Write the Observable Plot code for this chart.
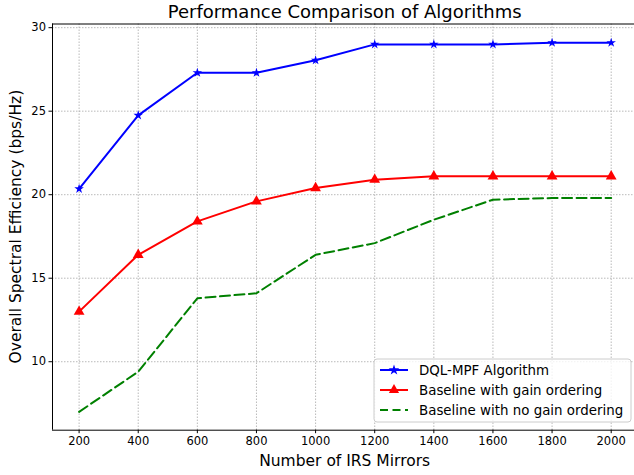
<!DOCTYPE html>
<html><head><meta charset="utf-8">
<script src="https://cdn.jsdelivr.net/npm/d3@7"></script>
<script src="https://cdn.jsdelivr.net/npm/@observablehq/plot@0.6"></script>
<style>body{margin:0;background:#fff}svg{display:block}</style>
</head><body><div id="chart"></div>
<script>
const mirrors = [200, 400, 600, 800, 1000, 1200, 1400, 1600, 1800, 2000];
const dqlMpf = [20.35, 24.75, 27.3, 27.3, 28.05, 29.0, 29.0, 29.0, 29.1, 29.1];
const gainOrdering = [13.0, 16.4, 18.4, 19.6, 20.4, 20.9, 21.1, 21.1, 21.1, 21.1];
const noGainOrdering = [7.0, 9.4, 13.8, 14.1, 16.4, 17.1, 18.5, 19.7, 19.8, 19.8];
const yTicks = [10, 15, 20, 25, 30];
const seriesNames = ["DQL-MPF Algorithm", "Baseline with gain ordering", "Baseline with no gain ordering"];

const font = "DejaVu Sans, sans-serif";
const mk = vals => mirrors.map((m, i) => ({x: m, y: vals[i]}));
const s1 = mk(dqlMpf), s2 = mk(gainOrdering), s3 = mk(noGainOrdering);

const W = 634, H = 475, L = 52, T = 23.5, B = 429.7, R = 637.3;
const xDom = [110, 2090], yDom = [5.9, 30.22];
const gridStyle = {stroke: "#a8a8a8", strokeOpacity: 1, strokeWidth: 0.8, strokeDasharray: "1.5,1.5"};

const plot = Plot.plot({
  width: W, height: H,
  marginLeft: L, marginRight: 0, marginTop: T, marginBottom: H - B,
  style: {fontFamily: font, background: "white"},
  x: {domain: xDom, range: [L, R]},
  y: {domain: yDom, range: [B, T]},
  marks: [
    Plot.gridX(mirrors, gridStyle),
    Plot.gridY(yTicks, gridStyle),
    Plot.lineY(s3, {x: "x", y: "y", stroke: "#008000", strokeWidth: 2, strokeDasharray: "10,4.5"}),
    Plot.lineY(s2, {x: "x", y: "y", stroke: "#ff0000", strokeWidth: 2}),
    Plot.dot(s2, {x: "x", y: "y", symbol: "triangle", r: 4, fill: "#ff0000", stroke: "none"}),
    Plot.lineY(s1, {x: "x", y: "y", stroke: "#0000ff", strokeWidth: 2}),
    Plot.dot(s1, {x: "x", y: "y", symbol: "star", r: 3, fill: "#0000ff", stroke: "none"}),
    Plot.ruleY([yDom[0], yDom[1]], {stroke: "black", strokeWidth: 1}),
    Plot.ruleX([xDom[0]], {stroke: "black", strokeWidth: 1}),
    Plot.axisX(mirrors, {tickSize: 3.5, tickPadding: 3, fontSize: 11.5, label: null, tickFormat: d => String(d), fill: "black"}),
    Plot.axisY(yTicks, {tickSize: 3.5, tickPadding: 3, fontSize: 11.5, label: null, fill: "black"})
  ]
});

const svg = d3.select(plot);
svg.append("text").attr("x", (L + R) / 2).attr("y", 17.5).attr("text-anchor", "middle")
  .attr("font-family", font).attr("font-size", 18).attr("fill", "black")
  .text("Performance Comparison of Algorithms");
svg.append("text").attr("x", (L + R) / 2).attr("y", 466).attr("text-anchor", "middle")
  .attr("font-family", font).attr("font-size", 15.5).attr("fill", "black")
  .text("Number of IRS Mirrors");
svg.append("text").attr("transform", `translate(21,${(T + B) / 2}) rotate(-90)`).attr("text-anchor", "middle")
  .attr("font-family", font).attr("font-size", 15.5).attr("fill", "black")
  .text("Overall Spectral Efficiency (bps/Hz)");

// legend
const lg = svg.append("g").attr("transform", "translate(374,359)");
lg.append("rect").attr("width", 257).attr("height", 63).attr("rx", 3)
  .attr("fill", "white").attr("fill-opacity", 0.8).attr("stroke", "#cccccc");
const styles = [
  {c: "#0000ff", dash: null, sym: d3.symbolStar, size: 35},
  {c: "#ff0000", dash: null, sym: d3.symbolTriangle, size: 45},
  {c: "#008000", dash: "8,4.5", sym: null}
];
seriesNames.forEach((name, i) => {
  const y = 11 + i * 20;
  const g = lg.append("g").attr("transform", `translate(0,${y})`);
  g.append("line").attr("x1", 6).attr("x2", 34).attr("stroke", styles[i].c).attr("stroke-width", 2)
    .attr("stroke-dasharray", styles[i].dash);
  if (styles[i].sym) g.append("path").attr("transform", "translate(20,0)")
    .attr("d", d3.symbol(styles[i].sym, styles[i].size)()).attr("fill", styles[i].c);
  g.append("text").attr("x", 45).attr("y", 0).attr("dy", "0.35em").attr("text-anchor", "start")
    .attr("font-family", font).attr("font-size", 13.4).attr("fill", "black").text(name);
});

document.getElementById("chart").append(plot);
</script></body></html>
